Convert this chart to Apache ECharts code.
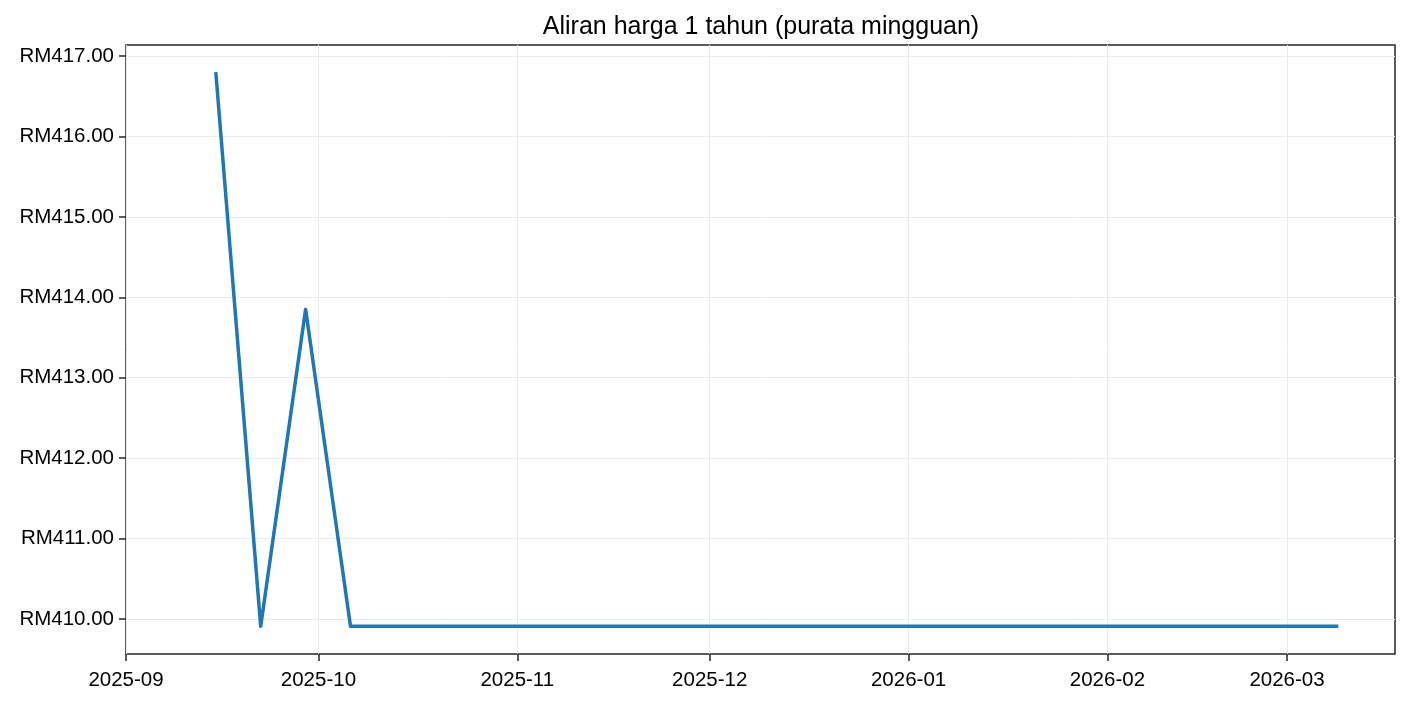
<!DOCTYPE html>
<html>
<head>
<meta charset="utf-8">
<script src="https://cdn.jsdelivr.net/npm/echarts@6/dist/echarts.min.js"></script>
<style>html,body{margin:0;padding:0;background:#fff}#c{width:1410px;height:704px}</style>
</head>
<body>
<div id="c"></div>
<script>
const TITLE = 'Aliran harga 1 tahun (purata mingguan)';
const dates = ['2025-09-15','2025-09-22','2025-09-29','2025-10-06','2025-10-13','2025-10-20','2025-10-27',
  '2025-11-03','2025-11-10','2025-11-17','2025-11-24','2025-12-01','2025-12-08','2025-12-15','2025-12-22',
  '2025-12-29','2026-01-05','2026-01-12','2026-01-19','2026-01-26','2026-02-02','2026-02-09','2026-02-16',
  '2026-02-23','2026-03-02','2026-03-09'];
const prices = [416.80, 409.91, 413.85, 409.91, 409.91, 409.91, 409.91,
  409.91, 409.91, 409.91, 409.91, 409.91, 409.91, 409.91, 409.91,
  409.91, 409.91, 409.91, 409.91, 409.91, 409.91, 409.91, 409.91,
  409.91, 409.91, 409.91];
const xTicks = ['2025-09-01','2025-10-01','2025-11-01','2025-12-01','2026-01-01','2026-02-01','2026-03-01'];
const yTicks = [410, 411, 412, 413, 414, 415, 416, 417];
const X_MIN = '2025-09-01', X_MAX = '2026-03-17T20:00:00';
const Y_MIN = 409.565, Y_MAX = 417.137;

const ts = s => new Date(s + (s.length === 10 ? 'T00:00:00Z' : 'Z')).getTime();
const xTickTs = xTicks.map(ts);
const FONT = 'Arial, "Liberation Sans", sans-serif';

const chart = echarts.init(document.getElementById('c'));
chart.setOption({
  animation: false,
  title: {
    text: TITLE, left: 756, top: 10, textAlign: 'center',
    textStyle: { fontFamily: FONT, fontSize: 25, fontWeight: 'normal', color: '#000' }
  },
  grid: { left: 126, right: 15, top: 45, bottom: 50, show: true, borderColor: '#262626', borderWidth: 1.5, backgroundColor: 'transparent' },
  xAxis: {
    type: 'value', min: ts(X_MIN), max: ts(X_MAX),
    axisLine: { show: false },
    axisTick: { show: true, length: 7, customValues: xTickTs, lineStyle: { color: '#262626', width: 1.5 } },
    axisLabel: {
      customValues: xTickTs, fontFamily: FONT, fontSize: 20.5, color: '#000', margin: 16,
      formatter: v => { const d = new Date(v); return d.getUTCFullYear() + '-' + String(d.getUTCMonth() + 1).padStart(2, '0'); }
    },
    splitLine: { show: true, lineStyle: { color: '#ebebeb', width: 1 } }
  },
  yAxis: {
    type: 'value', min: Y_MIN, max: Y_MAX,
    axisLine: { show: false },
    axisTick: { show: true, length: 7, customValues: yTicks, lineStyle: { color: '#262626', width: 1.5 } },
    axisLabel: {
      customValues: yTicks, fontFamily: FONT, fontSize: 20.5, color: '#000', margin: 12,
      formatter: v => 'RM' + v.toFixed(2)
    },
    splitLine: { show: true, lineStyle: { color: '#ebebeb', width: 1 } }
  },
  series: [{
    type: 'line',
    data: dates.map((d, i) => [ts(d), prices[i]]),
    showSymbol: false, symbol: 'none',
    lineStyle: { color: '#1f77b4', width: 3.5, cap: 'butt', join: 'round' },
    itemStyle: { color: '#1f77b4' }
  }]
});
</script>
</body>
</html>
